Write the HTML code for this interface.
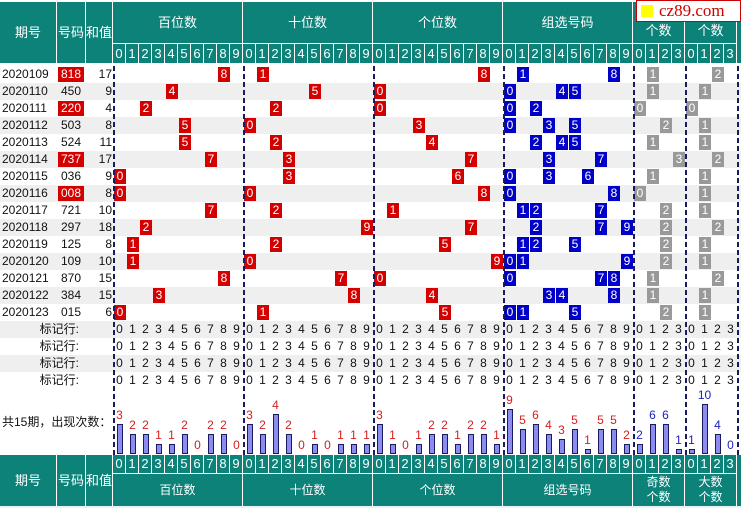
<!DOCTYPE html>
<html><head><meta charset="utf-8">
<style>
html,body{margin:0;padding:0;background:#fff;}
#root{position:relative;width:741px;height:508px;overflow:hidden;font-family:"Liberation Sans","Noto Sans CJK SC",sans-serif;font-size:12px;color:#111;}
.a{position:absolute;box-sizing:border-box;}
</style></head>
<body><div id="root"></div>
<script>
const periods=["2020109","2020110","2020111","2020112","2020113","2020114","2020115","2020116","2020117","2020118","2020119","2020120","2020121","2020122","2020123"];
const draws=["818","450","220","503","524","737","036","008","721","297","125","109","870","384","015"];
const sums=[17,9,4,8,11,17,9,8,10,18,8,10,15,15,6];
const hundredCounts=[3,2,2,1,1,2,0,2,2,0];
const tenCounts=[3,2,4,2,0,1,0,1,1,1];
const oneCounts=[3,1,0,1,2,2,1,2,2,1];
const groupCounts=[9,5,6,4,3,5,1,5,5,2];
const oddCounts=[2,6,6,1];
const bigCounts=[1,10,4,0];

const R=document.getElementById('root');
function box(x,y,w,h,css,txt,name){const d=document.createElement('div');d.className='a';d.style.cssText=`left:${x}px;top:${y}px;width:${w}px;height:${h}px;`+(css||'');if(txt!==undefined)d.textContent=txt;


R.appendChild(d);return d;}
const CW=13,TEAL='#0c8279';
const gx=[113,243,373,503,633,685];
const gn=[10,10,10,10,4,4];
const gNames=["百位数","十位数","个位数","组选号码","个数","个数"];
const ROW0=66,RH=17;
box(0,0,741,2,'background:#fff;',undefined,'top-border');
box(0,2,741,61,'background:'+TEAL+';',undefined,'header-bg');
const topCols=[[0,57,'期号'],[57,29,'号码'],[86,27,'和值']];
topCols.forEach(c=>{box(c[0],2,c[1],61,'color:#fff;text-align:center;line-height:61px;font-size:13px;border-right:1px solid #fff;',c[2],'header-'+c[2]);});
for(let g=0;g<6;g++){
  const w=gn[g]*CW;
  box(gx[g],2,w,42,'color:#fff;text-align:center;line-height:'+(g>=4?'58':'42')+'px;font-size:13px;border-right:1px solid #fff;border-bottom:1px solid #fff;',gNames[g],'header-group-'+g);
  for(let d=0;d<gn[g];d++) box(gx[g]+d*CW,44,CW,19,'color:#fff;text-align:center;line-height:19px;font-size:13px;border-right:1px solid #fff;',String(d),'header-digit');
}
box(636,0,105,22,'background:#fff;border:1px solid #c00;color:#c00;font-family:"Liberation Serif",serif;font-size:17px;line-height:20px;padding-left:22px;','cz89.com','logo');
box(641,5,12,12,'background:#ff0;',undefined,'logo-square');
function rowBg(i){return i%2?'#efefef':'#fff';}
for(let i=0;i<19;i++) box(0,ROW0+i*RH,741,RH,'background:'+rowBg(i)+';',undefined,'row-bg');
function pix(g,d){return gx[g]+d*CW;}
function mark(g,d,i,color,name){box(pix(g,d)+1,ROW0+i*RH+1,12,15,'background:'+color+';color:#fff;text-align:center;line-height:15px;font-size:12px;',String(d),name);}
periods.forEach((p,i)=>{
  const y=ROW0+i*RH, s=draws[i], ds=s.split('').map(Number);
  box(2,y,56,RH,'line-height:17px;',p,'period');
  const g3=new Set(ds).size<3;
  box(58,y+1,26,15,(g3?'background:#d40000;color:#fff;':'')+'text-align:center;line-height:15px;',s,'draw-number');
  box(86,y,26,RH,'text-align:right;line-height:17px;',String(sums[i]),'sum-value');
  for(let k=0;k<3;k++) mark(k,ds[k],i,'#d40000','position-mark');
  [...new Set(ds)].forEach(d=>mark(3,d,i,'#0000c8','group-mark'));
  const odd=ds.filter(d=>d%2).length, big=ds.filter(d=>d>=5).length;
  mark(4,odd,i,'#999','odd-count-mark');
  mark(5,big,i,'#999','big-count-mark');
});
for(let r=0;r<4;r++){
  const y=ROW0+(15+r)*RH;
  box(0,y,79,RH,'text-align:right;line-height:17px;','标记行:','marker-row-label');
  for(let g=0;g<6;g++)for(let d=0;d<gn[g];d++) box(pix(g,d),y,CW,RH,'text-align:center;line-height:17px;',String(d),'marker-digit');
}
box(2,414,110,17,'line-height:17px;','共15期，出现次数：','stats-label');
const series=[hundredCounts,tenCounts,oneCounts,groupCounts,oddCounts,bigCounts];
const unit=[10,10,10,5,5,5];
const BASE=454;
series.forEach((arr,g)=>{arr.forEach((v,d)=>{
  const h=v*unit[g], cx=pix(g,d)+CW/2;
  if(h>0) box(cx-3,BASE-h,6,h,'background:#8c8cf0;border:1px solid #1a1a60;','','count-bar');
  box(pix(g,d)-3,BASE-h-17,CW+6,16,'text-align:center;line-height:16px;color:'+(g<4?'#d42020':'#2020c0')+';',String(v),'count-label');
});});
[113,243,373,503,633,685,737].forEach(x=>{
  box(x,ROW0,2,BASE+1-ROW0,'background:repeating-linear-gradient(to bottom,#1a1a60 0 5px,transparent 5px 8px);',undefined,'group-separator');
});
box(0,455,741,51,'background:'+TEAL+';',undefined,'footer-bg');
for(let g=0;g<6;g++){
  for(let d=0;d<gn[g];d++) box(pix(g,d),455,CW,18,'color:#fff;text-align:center;line-height:18px;font-size:13px;border-right:1px solid #fff;',String(d),'footer-digit');
  const names=["百位数","十位数","个位数","组选号码","奇数\n个数","大数\n个数"];
  box(gx[g],473,gn[g]*CW,33,'color:#fff;text-align:center;font-size:12px;border-right:1px solid #fff;border-top:1px solid #fff;white-space:pre;display:flex;align-items:center;justify-content:center;line-height:15px;',names[g],'footer-group');
}
topCols.forEach(c=>{box(c[0],455,c[1],51,'color:#fff;text-align:center;line-height:51px;font-size:13px;border-right:1px solid #fff;background:'+TEAL+';',c[2],'footer-'+c[2]);});
box(0,506,741,2,'background:#e8f4f4;',undefined,'bottom-strip');
</script>
</body></html>
